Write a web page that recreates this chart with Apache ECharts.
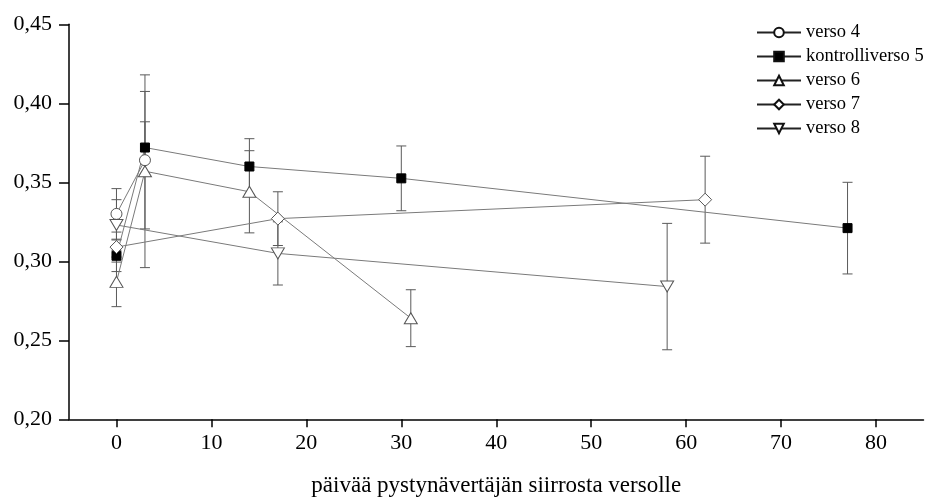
<!DOCTYPE html>
<html>
<head>
<meta charset="utf-8">
<script src="https://cdn.jsdelivr.net/npm/echarts@6/dist/echarts.min.js"></script>
<style>
  html, body { margin: 0; padding: 0; background: #fff; }
  #chart { width: 930px; height: 500px; }
</style>
</head>
<body>
<div id="chart"></div>
<script>
// data: days, mean value, error (+/-)
const verso4X = [0, 3];
const verso4Y = [0.330, 0.364];
const verso4Err = [0.016, 0.0435];

const kontrolli5X = [0, 3, 14, 30, 77];
const kontrolli5Y = [0.3035, 0.372, 0.360, 0.3525, 0.321];
const kontrolli5Err = [0.010, 0.0163, 0.0176, 0.0205, 0.029];

const verso6X = [0, 3, 14, 31];
const verso6Y = [0.287, 0.357, 0.344, 0.264];
const verso6Err = [0.0157, 0.061, 0.026, 0.018];

const verso7X = [0, 17, 62];
const verso7Y = [0.309, 0.327, 0.339];
const verso7Err = [0.0095, 0.017, 0.0275];

const verso8X = [0, 17, 58];
const verso8Y = [0.323, 0.305, 0.284];
const verso8Err = [0.016, 0.020, 0.040];

const xTicks = [0, 10, 20, 30, 40, 50, 60, 70, 80];
const yTicks = [0.20, 0.25, 0.30, 0.35, 0.40, 0.45];

const font = 'Liberation Serif';
const lineCol = '#7a7a7a';
const barCol = '#5a5a5a';

const chart = echarts.init(document.getElementById('chart'));

function zipPts(xs, ys) {
    return xs.map((x, i) => [x, ys[i]]);
}
function zipErr(xs, ys, es) {
    return xs.map((x, i) => [x, ys[i] - es[i], ys[i] + es[i]]);
}

// error bars drawn as custom series
function errSeries(name, xs, ys, es) {
    return {
        type: 'custom',
        name: name + '_err',
        silent: true,
        z: 1,
        data: zipErr(xs, ys, es),
        renderItem: function (params, api) {
            const lo = api.coord([api.value(0), api.value(1)]);
            const hi = api.coord([api.value(0), api.value(2)]);
            const w = 5;
            const st = { stroke: barCol, lineWidth: 1 };
            return {
                type: 'group',
                children: [
                    { type: 'line', shape: { x1: lo[0], y1: lo[1], x2: hi[0], y2: hi[1] }, style: st },
                    { type: 'line', shape: { x1: lo[0] - w, y1: lo[1], x2: lo[0] + w, y2: lo[1] }, style: st },
                    { type: 'line', shape: { x1: hi[0] - w, y1: hi[1], x2: hi[0] + w, y2: hi[1] }, style: st }
                ]
            };
        }
    };
}

function lineSeries(name, xs, ys, symbol, size, filled) {
    return {
        type: 'line',
        name: name,
        z: 3,
        data: zipPts(xs, ys),
        symbol: symbol,
        symbolSize: size,
        showAllSymbol: true,
        lineStyle: { color: lineCol, width: 1 },
        itemStyle: filled
            ? { color: '#000', borderColor: '#000', borderWidth: 1 }
            : { color: '#fff', borderColor: '#555', borderWidth: 1 },
        emphasis: { disabled: true },
        animation: false
    };
}

const downTri = 'path://M0,0 L12,0 L6,11 Z';

chart.setOption({
    animation: false,
    grid: {
        left: 69,
        right: 6.5,
        top: 24.3,
        bottom: 80.7,
        outerBoundsMode: 'none'
    },
    legend: {
        orient: 'vertical',
        left: 756,
        top: 23,
        padding: 0,
        itemWidth: 44,
        itemHeight: 12,
        itemGap: 5,
        data: ['verso 4', 'kontrolliverso 5', 'verso 6', 'verso 7', 'verso 8'],
        lineStyle: { color: '#222' },
        itemStyle: { borderColor: '#111' },
        textStyle: {
            fontFamily: font,
            fontSize: 18.5,
            color: '#000',
            lineHeight: 19
        }
    },
    xAxis: {
        type: 'value',
        min: -5,
        max: 85,
        name: 'päivää pystynävertäjän siirrosta versolle',
        nameLocation: 'middle',
        nameGap: 55,
        nameTextStyle: { fontFamily: font, fontSize: 23, color: '#000' },
        axisLine: { onZero: false, lineStyle: { color: '#000', width: 1.5 } },
        axisTick: { show: true, length: 8, customValues: xTicks, lineStyle: { color: '#000', width: 1.5 } },
        axisLabel: {
            customValues: xTicks,
            fontFamily: font,
            fontSize: 22,
            color: '#000',
            margin: 13
        },
        splitLine: { show: false }
    },
    yAxis: {
        type: 'value',
        min: 0.2,
        max: 0.45,
        axisLine: { show: true, onZero: false, lineStyle: { color: '#000', width: 1.5 } },
        axisTick: { show: true, length: 10, customValues: yTicks, lineStyle: { color: '#000', width: 1.5 } },
        axisLabel: {
            customValues: yTicks,
            fontFamily: font,
            fontSize: 22,
            color: '#000',
            margin: 17,
            formatter: v => v.toFixed(2).replace('.', ',')
        },
        splitLine: { show: false }
    },
    series: [
        errSeries('verso 4', verso4X, verso4Y, verso4Err),
        errSeries('kontrolliverso 5', kontrolli5X, kontrolli5Y, kontrolli5Err),
        errSeries('verso 6', verso6X, verso6Y, verso6Err),
        errSeries('verso 7', verso7X, verso7Y, verso7Err),
        errSeries('verso 8', verso8X, verso8Y, verso8Err),
        lineSeries('verso 4', verso4X, verso4Y, 'circle', 11, false),
        lineSeries('kontrolliverso 5', kontrolli5X, kontrolli5Y, 'rect', 9, true),
        lineSeries('verso 6', verso6X, verso6Y, 'triangle', [13, 11], false),
        lineSeries('verso 7', verso7X, verso7Y, 'diamond', [13, 13], false),
        lineSeries('verso 8', verso8X, verso8Y, downTri, [13, 11], false)
    ]
});
</script>
</body>
</html>
